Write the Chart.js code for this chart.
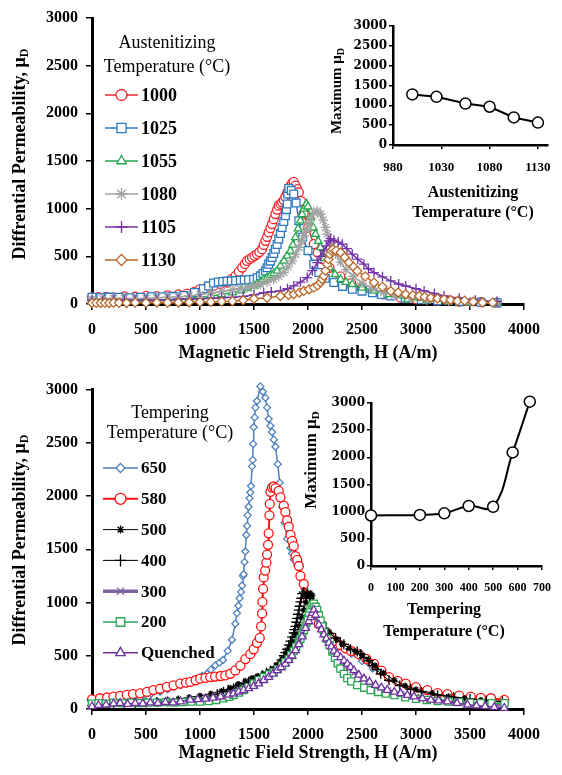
<!DOCTYPE html>
<html>
<head>
<meta charset="utf-8">
<script src="https://cdn.jsdelivr.net/npm/chart.js@4.4.1/dist/chart.umd.min.js"></script>
<style>
  body { margin: 0; background: #fff; }
  #page { position: relative; width: 562px; height: 775px; overflow: hidden; background: #fff; }
  canvas { position: absolute; }
</style>
</head>
<body>
<div id="page">
  <canvas id="mainTop" width="562" height="372" style="left:0;top:0"></canvas>
  <canvas id="insetTop" width="262" height="215" style="left:300px;top:10px"></canvas>
  <canvas id="mainBot" width="562" height="403" style="left:0;top:372px"></canvas>
  <canvas id="insetBot" width="272" height="260" style="left:290px;top:385px"></canvas>
</div>
<script>
// ---- data: [H (A/m), differential permeability] ----
const hTicks = [0, 500, 1000, 1500, 2000, 2500, 3000, 3500, 4000];
const muTicks = [0, 500, 1000, 1500, 2000, 2500, 3000];

const aus1000 = [[0,70],[60,72],[130,75],[200,70],[300,80],[400,76],[500,85],[600,82],[700,90],[800,100],[880,108],[950,130],[1000,155],[1060,172],[1125,190],[1190,210],[1250,225],[1290,260],[1330,295],[1360,340],[1390,382],[1415,420],[1435,452],[1460,470],[1482,487],[1505,505],[1528,523],[1550,545],[1575,575],[1590,620],[1606,663],[1621,705],[1636,751],[1652,795],[1667,839],[1683,890],[1698,944],[1714,990],[1729,1031],[1745,1050],[1760,1066],[1776,1090],[1791,1125],[1807,1165],[1822,1205],[1838,1240],[1853,1268],[1868,1280],[1884,1242],[1900,1205],[1915,1172],[1935,1080],[1960,950],[2000,800],[2054,628],[2090,540],[2131,470],[2200,380],[2300,290],[2400,220],[2500,170],[2600,130],[2700,100],[2858,66],[3000,50],[3200,35],[3400,25],[3600,20],[3750,15]];
const aus1025 = [[0,70],[80,65],[160,72],[250,70],[350,66],[450,70],[550,75],[650,76],[750,80],[850,90],[950,120],[1030,160],[1080,190],[1126,220],[1170,230],[1210,235],[1250,240],[1290,242],[1330,245],[1374,249],[1410,252],[1450,255],[1497,260],[1530,275],[1559,295],[1583,320],[1606,347],[1621,380],[1636,418],[1652,450],[1667,487],[1683,530],[1698,575],[1714,625],[1729,681],[1745,740],[1760,803],[1776,865],[1791,926],[1800,990],[1807,1049],[1813,1154],[1822,1212],[1845,1190],[1868,1154],[1890,1060],[1915,874],[1950,700],[2000,560],[2054,418],[2100,330],[2160,270],[2240,225],[2320,185],[2410,155],[2500,135],[2596,119],[2680,100],[2766,84],[2900,60],[3050,45],[3200,35],[3400,25],[3600,18],[3750,12]];
const aus1055 = [[0,40],[100,30],[200,25],[300,30],[400,35],[500,30],[600,40],[700,45],[800,50],[900,60],[1000,70],[1100,85],[1200,100],[1300,120],[1380,140],[1440,165],[1500,190],[1528,207],[1560,230],[1590,255],[1621,277],[1652,300],[1683,320],[1714,347],[1745,400],[1776,452],[1807,505],[1838,557],[1860,620],[1884,698],[1908,790],[1930,874],[1946,940],[1961,997],[1975,1030],[1986,1050],[2000,1020],[2023,908],[2050,800],[2070,733],[2095,660],[2116,593],[2150,480],[2200,380],[2250,310],[2302,260],[2350,230],[2410,207],[2500,170],[2611,137],[2750,102],[2921,49],[3100,35],[3300,25],[3500,15],[3750,10]];
const aus1080 = [[0,50],[100,55],[200,60],[300,60],[400,55],[500,60],[600,65],[700,70],[800,75],[900,85],[1000,100],[1100,115],[1200,130],[1300,150],[1370,160],[1435,172],[1500,190],[1559,207],[1620,230],[1683,260],[1730,290],[1776,330],[1815,390],[1853,452],[1885,520],[1915,593],[1940,655],[1961,716],[1985,780],[2008,839],[2030,900],[2054,961],[2085,975],[2116,944],[2140,880],[2162,803],[2178,733],[2210,640],[2255,524],[2300,440],[2350,360],[2420,290],[2500,220],[2600,160],[2700,120],[2800,90],[2950,60],[3100,40],[3300,28],[3500,20],[3750,14]];
const aus1105 = [[0,40],[100,40],[200,45],[300,45],[400,40],[500,45],[600,40],[700,45],[800,50],[900,50],[1000,55],[1100,60],[1200,65],[1300,70],[1400,80],[1500,95],[1590,119],[1660,128],[1745,137],[1810,160],[1868,190],[1930,230],[1992,277],[2040,350],[2085,435],[2116,500],[2147,557],[2170,610],[2194,663],[2209,685],[2240,670],[2280,650],[2317,628],[2360,580],[2410,523],[2460,470],[2518,418],[2560,370],[2611,330],[2690,285],[2766,242],[2840,210],[2905,189],[3000,160],[3075,137],[3170,110],[3260,84],[3400,60],[3550,40],[3750,25]];
const aus1130 = [[0,10],[40,12],[80,10],[120,12],[160,10],[200,14],[250,12],[320,10],[400,14],[500,12],[600,15],[700,14],[800,15],[900,18],[1000,20],[1100,22],[1200,25],[1300,30],[1400,40],[1500,55],[1621,66],[1745,84],[1820,95],[1868,102],[1920,120],[1961,137],[2010,155],[2054,172],[2090,195],[2116,225],[2132,260],[2147,295],[2162,350],[2178,418],[2190,470],[2203,523],[2215,560],[2230,575],[2260,560],[2302,540],[2340,490],[2379,435],[2420,390],[2456,347],[2530,290],[2611,225],[2690,180],[2766,137],[2835,120],[2905,102],[2970,92],[3029,84],[3080,75],[3137,66],[3200,58],[3260,49],[3320,42],[3384,32],[3450,35],[3530,25],[3616,14],[3709,14]];

const temp650 = [[0,60],[80,70],[167,86],[250,95],[322,101],[400,115],[476,132],[550,145],[631,162],[700,185],[755,208],[820,225],[879,239],[930,260],[971,285],[1020,310],[1064,331],[1100,370],[1141,410],[1180,435],[1213,460],[1256,546],[1296,650],[1327,800],[1342,900],[1355,970],[1367,1040],[1380,1100],[1389,1160],[1398,1250],[1404,1266],[1412,1380],[1420,1480],[1429,1634],[1436,1720],[1441,1819],[1450,1900],[1459,1980],[1466,2034],[1472,2095],[1482,2279],[1488,2340],[1492,2490],[1497,2647],[1506,2739],[1513,2831],[1528,2893],[1559,3030],[1582,2980],[1605,2923],[1621,2831],[1636,2724],[1652,2660],[1667,2601],[1683,2530],[1698,2463],[1720,2300],[1738,2126],[1760,1896],[1783,1750],[1807,1600],[1838,1512],[1853,1460],[1868,1404],[1900,1358],[1930,1266],[1970,1130],[2010,1000],[2060,880],[2120,780],[2200,680],[2300,590],[2400,520],[2500,450],[2600,380],[2750,290],[2900,230],[3100,170],[3300,140],[3500,110],[3700,95],[3820,85]];
const temp580 = [[0,90],[74,101],[140,108],[198,116],[260,124],[322,132],[380,140],[445,147],[510,160],[569,178],[630,190],[693,208],[755,222],[817,239],[870,247],[910,254],[960,270],[1002,285],[1050,292],[1095,300],[1140,305],[1190,310],[1234,315],[1281,331],[1327,362],[1374,408],[1420,469],[1466,515],[1497,561],[1528,622],[1553,668],[1566,776],[1575,898],[1578,1006],[1584,1128],[1590,1236],[1603,1300],[1615,1374],[1621,1450],[1630,1542],[1636,1650],[1643,1819],[1646,1926],[1652,2040],[1667,2080],[1683,2090],[1700,2075],[1729,2049],[1745,1988],[1776,1911],[1791,1850],[1807,1773],[1822,1712],[1838,1635],[1853,1580],[1868,1530],[1884,1436],[1900,1400],[1915,1343],[1930,1250],[1961,1174],[2000,1030],[2050,900],[2100,800],[2150,730],[2200,680],[2250,640],[2300,600],[2350,570],[2400,545],[2471,515],[2540,470],[2611,423],[2680,360],[2750,300],[2830,265],[2905,239],[3000,205],[3105,178],[3200,150],[3291,140],[3400,125],[3508,116],[3600,105],[3694,101],[3817,86]];
const temp500 = [[0,40],[100,50],[200,55],[300,60],[400,60],[500,65],[600,75],[700,85],[800,95],[900,110],[1000,125],[1100,145],[1200,170],[1280,200],[1350,235],[1420,265],[1480,290],[1530,310],[1584,331],[1630,350],[1680,380],[1720,420],[1760,470],[1800,520],[1830,570],[1860,630],[1890,700],[1915,780],[1940,860],[1960,930],[1980,1000],[2000,1060],[2020,1090],[2040,1070],[2070,980],[2100,900],[2150,800],[2200,720],[2260,660],[2320,610],[2380,570],[2440,540],[2500,505],[2560,460],[2620,410],[2700,340],[2800,270],[2900,220],[3000,185],[3150,150],[3300,120],[3450,100],[3600,85],[3800,70]];
const temp400 = [[0,30],[100,40],[200,45],[300,50],[400,55],[500,60],[600,65],[700,70],[800,80],[900,90],[1000,100],[1100,120],[1160,140],[1218,162],[1260,180],[1311,193],[1360,215],[1404,239],[1450,255],[1497,270],[1540,290],[1575,316],[1615,340],[1652,362],[1690,390],[1729,423],[1755,460],[1776,500],[1790,530],[1807,561],[1822,600],[1838,638],[1853,676],[1868,714],[1876,745],[1884,776],[1892,815],[1900,852],[1908,890],[1915,929],[1922,965],[1930,1006],[1938,1040],[1946,1083],[1961,1098],[1977,1060],[1993,1083],[2015,1040],[2039,1006],[2070,920],[2100,850],[2147,760],[2200,710],[2255,668],[2300,630],[2332,607],[2394,561],[2456,540],[2487,515],[2518,484],[2564,454],[2596,408],[2640,370],[2673,331],[2750,270],[2850,220],[2950,185],[3050,160],[3200,130],[3350,110],[3500,95],[3650,80],[3800,70]];
const temp300 = [[0,40],[100,45],[200,50],[300,55],[400,55],[500,60],[600,60],[700,65],[800,70],[900,75],[1000,85],[1100,95],[1200,110],[1300,130],[1400,175],[1500,235],[1590,295],[1680,345],[1760,405],[1820,465],[1870,540],[1915,620],[1950,700],[1980,800],[2010,900],[2040,970],[2070,920],[2100,820],[2150,700],[2200,610],[2250,540],[2300,470],[2360,400],[2430,340],[2520,280],[2620,220],[2740,175],[2860,140],[3000,115],[3150,90],[3300,70],[3500,55],[3700,45],[3820,40]];
const temp200 = [[0,50],[60,55],[130,50],[200,60],[280,55],[360,60],[440,55],[520,60],[600,60],[680,65],[760,60],[840,65],[920,70],[1000,70],[1080,75],[1150,85],[1218,101],[1270,115],[1311,132],[1360,155],[1404,178],[1450,208],[1497,239],[1545,270],[1590,300],[1640,325],[1683,346],[1720,375],[1760,408],[1790,440],[1822,469],[1845,505],[1868,546],[1890,585],[1915,622],[1930,660],[1946,699],[1962,740],[1977,776],[1988,815],[1998,852],[2010,900],[2023,944],[2040,975],[2054,990],[2070,960],[2085,930],[2100,880],[2116,830],[2133,775],[2150,720],[2175,660],[2200,600],[2225,540],[2250,480],[2275,430],[2300,380],[2332,330],[2364,290],[2400,260],[2456,224],[2520,200],[2580,178],[2650,160],[2720,145],[2800,130],[2900,110],[3000,95],[3100,85],[3200,75],[3300,70],[3400,65],[3500,60],[3600,55],[3700,55],[3820,55]];
const quenched = [[0,24],[60,35],[130,40],[200,50],[260,55],[330,45],[400,55],[470,50],[540,60],[610,55],[680,65],[750,60],[820,70],[910,86],[980,90],[1050,95],[1120,105],[1190,115],[1265,132],[1310,145],[1358,162],[1405,178],[1451,193],[1497,215],[1543,239],[1590,270],[1636,300],[1675,330],[1714,362],[1750,390],[1791,423],[1822,460],[1853,500],[1885,550],[1915,607],[1945,680],[1977,760],[2008,822],[2025,860],[2039,900],[2054,930],[2070,883],[2101,791],[2124,745],[2147,699],[2170,660],[2194,622],[2217,585],[2240,546],[2270,515],[2302,484],[2333,453],[2364,423],[2395,392],[2425,362],[2470,320],[2518,285],[2570,255],[2626,224],[2680,200],[2734,178],[2800,160],[2858,147],[2920,130],[2982,116],[3060,100],[3137,86],[3210,78],[3291,70],[3380,55],[3477,40],[3560,32],[3640,25],[3725,18],[3817,9]];

// insets
const austTemp = [1000, 1025, 1055, 1080, 1105, 1130];
const austMax = [1275, 1215, 1045, 965, 695, 565];
const austTicks = [980, 1030, 1080, 1130];
const tempC = [0, 200, 300, 400, 500, 580, 650];
const tempMax = [930, 940, 970, 1105, 1090, 2090, 3025];
const tempTicks = [0, 100, 200, 300, 400, 500, 600, 700];

const SERIF = "'Liberation Serif', 'Times New Roman', serif";

function pts(pairs) {
    return pairs.map(p => ({ x: p[0], y: p[1] }));
}

function series(label, pairs, color, style, radius, extra) {
    return Object.assign({
        label: label,
        data: pts(pairs),
        borderColor: color,
        backgroundColor: "#fff",
        borderWidth: 1.5,
        pointStyle: style,
        pointRadius: radius,
        pointBackgroundColor: "#fff",
        pointBorderColor: color,
        pointBorderWidth: 1.3,
        tension: 0,
        fill: false,
        clip: false
    }, extra || {});
}

// legend drawn inside the plot, like the original
const inLegend = {
    id: "inLegend",
    afterDraw(chart, args, o) {
        const ctx = chart.ctx;
        ctx.save();
        ctx.fillStyle = "#000";
        ctx.textAlign = "center";
        ctx.textBaseline = "middle";
        ctx.font = o.titleFont;
        o.title.forEach((t, i) => ctx.fillText(t, o.titleX, o.titleY[i]));
        chart.data.datasets.forEach((ds, i) => {
            const y = o.y0 + i * o.dy;
            ctx.strokeStyle = ds.borderColor;
            ctx.lineWidth = ds.borderWidth;
            ctx.beginPath();
            ctx.moveTo(o.x1, y);
            ctx.lineTo(o.x2, y);
            ctx.stroke();
            ctx.fillStyle = "#fff";
            ctx.strokeStyle = ds.pointBorderColor;
            ctx.lineWidth = ds.pointBorderWidth;
            Chart.helpers.drawPoint(ctx, {
                pointStyle: ds.pointStyle, rotation: 0,
                radius: ds.pointRadius + 1, borderWidth: ds.pointBorderWidth
            }, (o.x1 + o.x2) / 2, y);
            ctx.fillStyle = "#000";
            ctx.textAlign = "left";
            ctx.font = o.font;
            ctx.fillText(ds.label, o.tx, y + 1);
        });
        ctx.restore();
    }
};

// axis titles, the y one with a subscript D
const axisTitles = {
    id: "axisTitles",
    afterDraw(chart, args, o) {
        const ctx = chart.ctx;
        ctx.save();
        ctx.fillStyle = "#000";
        ctx.textBaseline = "middle";
        ctx.textAlign = "center";
        ctx.font = o.xFont;
        o.xLines.forEach((t, i) => ctx.fillText(t, o.xX, o.xY[i]));

        ctx.translate(o.yX, o.yY);
        ctx.rotate(-Math.PI / 2);
        ctx.font = o.yFont;
        const w1 = ctx.measureText(o.yText).width;
        ctx.font = o.subFont;
        const w2 = ctx.measureText(o.sub).width;
        const start = -(w1 + w2) / 2;
        ctx.textAlign = "left";
        ctx.font = o.yFont;
        ctx.fillText(o.yText, start, 0);
        ctx.font = o.subFont;
        ctx.fillText(o.sub, start + w1, o.subDrop);
        ctx.restore();
    }
};

function axis(min, max, tickList, fit, tickFont, tickLen, pad, bw) {
    return {
        type: "linear", min: min, max: max,
        afterFit: fit,
        afterBuildTicks: s => { s.ticks = tickList.map(v => ({ value: v })); },
        grid: { display: true, drawOnChartArea: false, drawTicks: true, tickLength: tickLen, color: "#000", lineWidth: 1.5 },
        border: { display: true, color: "#000", width: bw },
        ticks: {
            color: "#000", font: tickFont, padding: pad, maxRotation: 0, autoSkip: false,
            callback: v => String(v)
        }
    };
}

function mainChart(id, datasets, pad, xh, legendOpts, titleOpts) {
    const tickFont = { family: SERIF, size: 16, weight: "bold" };
    const n = datasets.length;
    datasets.forEach((d, i) => { d.order = n - 1 - i; });
    return new Chart(document.getElementById(id), {
        type: "line",
        data: { datasets: datasets },
        options: {
            responsive: false, animation: false, events: [], devicePixelRatio: 1,
            layout: { padding: pad },
            scales: {
                x: axis(0, 4000, hTicks, s => { s.height = xh; }, tickFont, 6, 10, 3),
                y: axis(0, 3000, muTicks, s => { s.width = 92; }, tickFont, 6, 8, 3)
            },
            plugins: {
                legend: { display: false }, tooltip: { enabled: false },
                inLegend: legendOpts, axisTitles: titleOpts
            }
        },
        plugins: [inLegend, axisTitles]
    });
}

function insetChart(id, xs, ys, xmin, xmax, xticks, pad, yw, xh, tension, yTickSize, xTickSize, titleOpts) {
    return new Chart(document.getElementById(id), {
        type: "line",
        data: {
            datasets: [{
                data: xs.map((x, i) => ({ x: x, y: ys[i] })),
                borderColor: "#000", borderWidth: 2,
                pointStyle: "circle", pointRadius: 5.5,
                pointBackgroundColor: "#fff", pointBorderColor: "#000", pointBorderWidth: 1.5,
                tension: tension, fill: false, clip: false
            }]
        },
        options: {
            responsive: false, animation: false, events: [], devicePixelRatio: 1,
            layout: { padding: pad },
            scales: {
                x: axis(xmin, xmax, xticks, s => { s.height = xh; },
                    { family: SERIF, size: xTickSize, weight: "bold" }, 4, 11, 2.5),
                y: axis(0, 3000, muTicks, s => { s.width = yw; },
                    { family: "'DejaVu Serif', serif", size: yTickSize, weight: "bold" }, 4, 2, 2.5)
            },
            plugins: { legend: { display: false }, tooltip: { enabled: false }, axisTitles: titleOpts }
        },
        plugins: [axisTitles]
    });
}

// ---- top: austenitizing temperature ----
mainChart("mainTop", [
    series("1000", aus1000, "#f2242b", "circle", 4.5),
    series("1025", aus1025, "#2e78c0", "rect", 5.5),
    series("1055", aus1055, "#25a74f", "triangle", 4.5),
    series("1080", aus1080, "#a3a3a3", "star", 5),
    series("1105", aus1105, "#7332a8", "cross", 5),
    series("1130", aus1130, "#b8682a", "rectRot", 4.5)
], { top: 18, right: 38, left: 0, bottom: 0 }, 68, {
    title: ["Austenitizing", "Temperature (\u00B0C)"], titleX: 167, titleY: [43, 67],
    titleFont: "18px " + SERIF, font: "bold 18px " + SERIF,
    x1: 105, x2: 138, tx: 141, y0: 95, dy: 33
}, {
    xLines: ["Magnetic Field Strength, H (A/m)"], xX: 308, xY: [353], xFont: "bold 18px " + SERIF,
    yText: "Diffrential Permeability, \u03BC", sub: "D", yX: 20, yY: 154,
    yFont: "bold 18px " + SERIF, subFont: "bold 12px " + SERIF, subDrop: 5
});

insetChart("insetTop", austTemp, austMax, 980, 1140, austTicks,
    { top: 16, right: 7, left: 0, bottom: 0 }, 93, 80, 0, 12, 13, {
    xLines: ["Austenitizing", "Temperature (\u00B0C)"], xX: 173, xY: [183, 203], xFont: "bold 16px " + SERIF,
    yText: "Maximum \u03BC", sub: "D", yX: 37, yY: 81,
    yFont: "bold 15px " + SERIF, subFont: "bold 10px " + SERIF, subDrop: 4
});

// ---- bottom: tempering temperature ----
mainChart("mainBot", [
    series("650", temp650, "#4f81bd", "rectRot", 3.5),
    series("580", temp580, "#ff1010", "circle", 4.5, { borderWidth: 2 }),
    series("500", temp500, "#000", "star", 3, { borderWidth: 1 }),
    series("400", temp400, "#000", "cross", 5, { borderWidth: 1 }),
    series("300", temp300, "#8064a2", "crossRot", 4, { borderWidth: 3.5 }),
    series("200", temp200, "#2aa552", "rect", 5),
    series("Quenched", quenched, "#7030a0", "triangle", 4.5)
], { top: 11, right: 38, left: 0, bottom: 0 }, 66, {
    title: ["Tempering", "Temperature (\u00B0C)"], titleX: 170, titleY: [41, 61],
    titleFont: "18px " + SERIF, font: "bold 17px " + SERIF,
    x1: 103, x2: 138, tx: 141, y0: 96, dy: 30.8
}, {
    xLines: ["Magnetic Field Strength, H (A/m)"], xX: 308, xY: [381], xFont: "bold 18px " + SERIF,
    yText: "Diffrential Permeability, \u03BC", sub: "D", yX: 20, yY: 168,
    yFont: "bold 18px " + SERIF, subFont: "bold 12px " + SERIF, subDrop: 5
});

insetChart("insetBot", tempC, tempMax, 0, 700, tempTicks,
    { top: 18, right: 9, left: 0, bottom: 0 }, 81, 79, 0.4, 12, 12, {
    xLines: ["Tempering", "Temperature (\u00B0C)"], xX: 154, xY: [225, 247], xFont: "bold 16px " + SERIF,
    yText: "Maximum \u03BC", sub: "D", yX: 22, yY: 75,
    yFont: "bold 17px " + SERIF, subFont: "bold 11px " + SERIF, subDrop: 4
});
</script>
</body>
</html>
